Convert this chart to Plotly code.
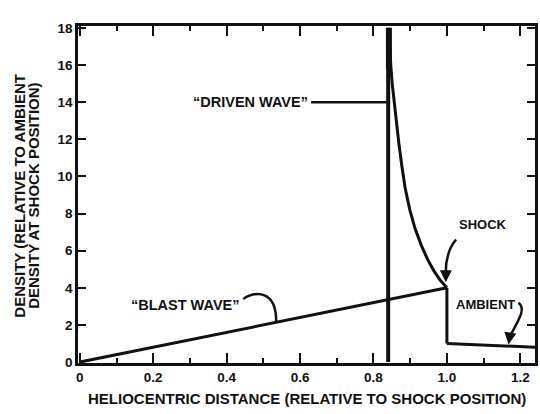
import plotly.graph_objects as go

# Density profiles vs heliocentric distance (relative to shock position)
blast_x = [0.0, 1.0]
blast_y = [0.0, 4.0]

driven_x = [0.842, 0.844, 0.847, 0.851, 0.856, 0.862, 0.869, 0.877, 0.886, 0.899, 0.913, 0.93, 0.948, 0.965, 0.982, 1.0]
driven_y = [18.0, 17.0, 16.0, 15.0, 14.0, 13.0, 11.8, 10.6, 9.4, 8.2, 7.2, 6.3, 5.5, 4.9, 4.4, 4.0]

piston_x = [0.84, 0.84]
piston_y = [0.0, 18.0]

shock_x = [1.0, 1.0]
shock_y = [4.0, 1.0]

ambient_x = [1.0, 1.05, 1.1, 1.15, 1.2, 1.24]
ambient_y = [1.0, 0.95, 0.9, 0.86, 0.82, 0.8]

x_ticks = [0, 0.2, 0.4, 0.6, 0.8, 1.0, 1.2]
x_labels = ["0", "0.2", "0.4", "0.6", "0.8", "1.0", "1.2"]
y_ticks = [0, 2, 4, 6, 8, 10, 12, 14, 16, 18]

y_title_lines = ["DENSITY (RELATIVE TO AMBIENT", "DENSITY AT SHOCK POSITION)"]
x_title = "HELIOCENTRIC DISTANCE (RELATIVE TO SHOCK POSITION)"

FONT = "Liberation Sans"
INK = "#111111"

fig = go.Figure()
line = dict(color=INK, width=3)
fig.add_trace(go.Scatter(x=blast_x, y=blast_y, mode="lines", line=line))
fig.add_trace(go.Scatter(x=piston_x, y=piston_y, mode="lines", line=dict(color=INK, width=4)))
fig.add_trace(go.Scatter(x=driven_x, y=driven_y, mode="lines", line=dict(color=INK, width=3)))
fig.add_trace(go.Scatter(x=shock_x, y=shock_y, mode="lines", line=line))
fig.add_trace(go.Scatter(x=ambient_x, y=ambient_y, mode="lines", line=line))

# thick merged section at the top of the driven wave
fig.add_trace(go.Scatter(x=[0.842, 0.842], y=[15.8, 18.0], mode="lines", line=dict(color=INK, width=6)))

# leader lines for the labels
fig.add_shape(type="line", x0=0.63, x1=0.845, y0=14.0, y1=14.0, xref="x", yref="y",
              line=dict(color=INK, width=2.5))
fig.add_shape(type="path", xref="x", yref="y",
              path="M 0.445,3.4 C 0.48,3.85 0.535,3.85 0.535,2.2",
              line=dict(color=INK, width=2.5))
fig.add_shape(type="path", xref="x", yref="y",
              path="M 1.025,6.6 C 1.0,6.0 0.996,5.3 0.997,4.7",
              line=dict(color=INK, width=2.5))
fig.add_shape(type="path", xref="x", yref="y",
              path="M 1.195,3.2 C 1.215,2.9 1.2,2.4 1.172,1.4",
              line=dict(color=INK, width=2.5))

lab = dict(family=FONT, size=13, color=INK, weight="bold")
quoted = dict(family=FONT, size=14.5, color=INK, weight="bold")
fig.add_annotation(x=0.627, y=14.0, text="\u201cDRIVEN WAVE\u201d", showarrow=False,
                   xanchor="right", yanchor="middle", font=quoted)
fig.add_annotation(x=0.44, y=3.1, text="\u201cBLAST WAVE\u201d", showarrow=False,
                   xanchor="right", yanchor="middle", font=quoted)
fig.add_annotation(x=1.097, y=7.4, text="SHOCK", showarrow=False,
                   xanchor="center", yanchor="middle", font=lab)
fig.add_annotation(x=1.105, y=3.1, text="AMBIENT", showarrow=False,
                   xanchor="center", yanchor="middle", font=lab)

# arrowheads at the ends of the SHOCK and AMBIENT leaders
for hx, hy, tx, ty in [(0.997, 4.3, 0.997, 4.9), (1.168, 0.95, 1.172, 1.5)]:
    fig.add_annotation(x=hx, y=hy, ax=tx, ay=ty, axref="x", ayref="y", xref="x", yref="y",
                       text="", showarrow=True, arrowhead=2, arrowsize=1.2, arrowwidth=2,
                       arrowcolor=INK)

# axis titles
fig.add_annotation(x=0.5, xref="paper", y=-0.105, yref="paper", yanchor="middle",
                   text=x_title, showarrow=False,
                   font=dict(family=FONT, size=15, color=INK, weight="bold"))
for text, xp in zip(y_title_lines, [-0.128, -0.097]):
    fig.add_annotation(x=xp, xref="paper", y=0.495, yref="paper", textangle=-90,
                       xanchor="center", yanchor="middle", text=text, showarrow=False,
                       font=dict(family=FONT, size=15, color=INK, weight="bold"))

tick_font = dict(family=FONT, size=13.5, color=INK, weight="bold")
fig.update_layout(
    width=540, height=414,
    margin=dict(l=78, r=2, t=26, b=51),
    paper_bgcolor="white", plot_bgcolor="white",
    showlegend=False,
    font=dict(family=FONT, color=INK),
    xaxis=dict(range=[-0.005, 1.24], tickvals=x_ticks, ticktext=x_labels,
               ticks="inside", ticklen=10, tickwidth=2, tickcolor=INK,
               minor=dict(dtick=0.1, tick0=0, ticks="inside", ticklen=5, tickwidth=2, tickcolor=INK),
               showline=True, linewidth=2.5, linecolor=INK, mirror="allticks",
               showgrid=False, zeroline=False, tickfont=tick_font),
    yaxis=dict(range=[-0.05, 18.1], tickvals=y_ticks,
               ticks="inside", ticklen=8, tickwidth=2, tickcolor=INK,
               showline=True, linewidth=2.5, linecolor=INK, mirror="allticks",
               showgrid=False, zeroline=False, tickfont=tick_font),
)

fig.write_html("out.html")
